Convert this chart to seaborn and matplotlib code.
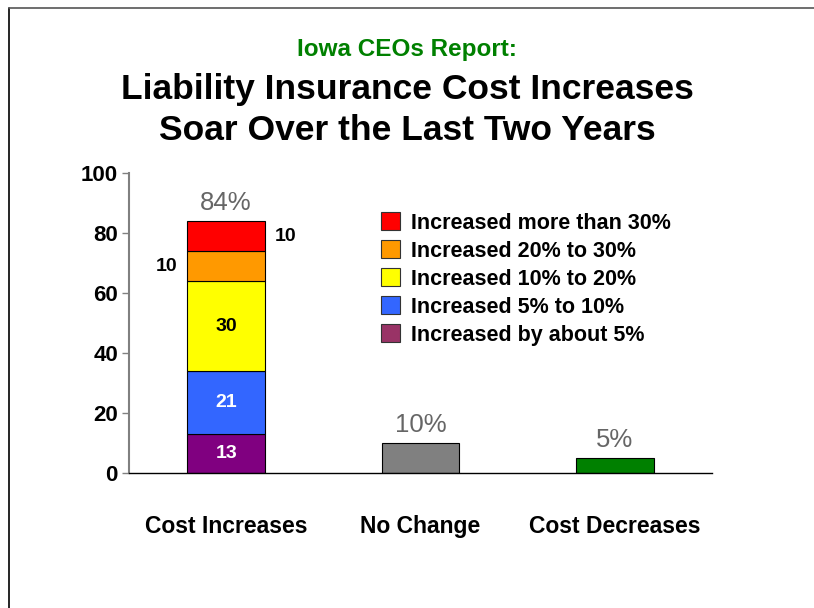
import matplotlib
matplotlib.use('Agg')
import matplotlib.pyplot as plt
import seaborn as sns
from matplotlib.lines import Line2D

# Data
categories = ['Cost Increases', 'No Change', 'Cost Decreases']
segment_labels = ['Increased by about 5%', 'Increased 5% to 10%', 'Increased 10% to 20%',
                  'Increased 20% to 30%', 'Increased more than 30%']
segment_values = [13, 21, 30, 10, 10]
segment_colors = ['#800080', '#3366FF', '#FFFF00', '#FF9900', '#FF0000']
legend_colors = ['#993366', '#3366FF', '#FFFF00', '#FF9900', '#FF0000']
other_categories = ['No Change', 'Cost Decreases']
other_values = [10, 5]
other_colors = ['#808080', '#008000']
total_labels = ['84%', '10%', '5%']
y_ticks = [0, 20, 40, 60, 80, 100]

sns.set_style('white')
plt.rcParams['font.family'] = ['Liberation Sans', 'DejaVu Sans']
plt.rcParams['text.color'] = 'black'
plt.rcParams['xtick.color'] = 'black'
plt.rcParams['ytick.color'] = 'black'
plt.rcParams['xtick.labelcolor'] = 'black'
plt.rcParams['ytick.labelcolor'] = 'black'

fig = plt.figure(figsize=(8.14, 6.08), dpi=100)
ax = fig.add_axes([0.1585, 0.222, 0.7162, 0.4934])

# Stacked bar for Cost Increases
bottom = 0
for val, col in zip(segment_values, segment_colors):
    sns.barplot(x=['Cost Increases'], y=[val], order=categories, bottom=bottom,
                color=col, saturation=1, width=0.4, edgecolor='black', linewidth=0.8, ax=ax)
    bottom += val

# Remaining bars
sns.barplot(x=other_categories, y=other_values, order=categories, hue=other_categories,
            palette=other_colors, saturation=1, legend=False, width=0.4, edgecolor='black',
            linewidth=0.8, ax=ax)

# Segment value labels
mids = []
cum = 0
for val in segment_values:
    mids.append(cum + val / 2)
    cum += val
ax.text(0, mids[0], str(segment_values[0]), ha='center', va='center', color='white',
        fontsize=14, fontweight='bold')
ax.text(0, mids[1], str(segment_values[1]), ha='center', va='center', color='white',
        fontsize=14, fontweight='bold')
ax.text(0, mids[2], str(segment_values[2]), ha='center', va='center', color='black',
        fontsize=14, fontweight='bold')
ax.text(-0.25, mids[3], str(segment_values[3]), ha='right', va='center', color='black',
        fontsize=14, fontweight='bold')
ax.text(0.25, mids[4], str(segment_values[4]), ha='left', va='center', color='black',
        fontsize=14, fontweight='bold')

# Total labels above bars
totals = [sum(segment_values)] + other_values
for i, (t, lab) in enumerate(zip(totals, total_labels)):
    ax.text(i, t + 2, lab, ha='center', va='bottom', color='#666666', fontsize=18.5)

ax.set_xlim(-0.5, 2.5)
ax.set_ylim(0, 100)
ax.set_yticks(y_ticks)
ax.set_yticklabels([str(v) for v in y_ticks], fontsize=16, fontweight='bold')
ax.set_xticks(range(len(categories)))
ax.set_xticklabels(categories, fontsize=16.5, fontweight='bold')
ax.set_xticks([-0.5, 0.5, 1.5, 2.5], minor=True)
ax.tick_params(axis='x', which='major', length=0, pad=30)
ax.tick_params(axis='x', which='minor', length=10, width=1, color='#404040', direction='out')
ax.tick_params(axis='y', length=5, width=1, color='#808080', direction='out', pad=3,
               left=True)
ax.set_xlabel('')
ax.set_ylabel('')
for s in ['top', 'right']:
    ax.spines[s].set_visible(False)
ax.spines['left'].set_color('#808080')
ax.spines['left'].set_linewidth(1.5)
ax.spines['bottom'].set_color('black')
ax.spines['bottom'].set_linewidth(1)

# Legend (top to bottom: highest increase first)
handles = [plt.Rectangle((0, 0), 1, 1, facecolor=c, edgecolor='#333333', linewidth=0.8)
           for c in legend_colors[::-1]]
fig.legend(handles, segment_labels[::-1], loc='upper left', bbox_to_anchor=(0.457, 0.665),
           frameon=False, prop={'weight': 'bold', 'size': 15.5},
           handlelength=0.9, handleheight=0.9, handletextpad=0.5, labelspacing=0.31,
           borderaxespad=0)

# Titles
fig.text(0.5, 0.918, 'Iowa CEOs Report:', ha='center', va='center', color='#008000',
         fontsize=17.5, fontweight='bold')
fig.text(0.5, 0.853, 'Liability Insurance Cost Increases', ha='center', va='center',
         fontsize=25.5, fontweight='bold')
fig.text(0.5, 0.785, 'Soar Over the Last Two Years', ha='center', va='center',
         fontsize=25.5, fontweight='bold')

# Slide frame
fig.add_artist(Line2D([0.0105, 0.0105], [0, 0.987], color='black', linewidth=1.2,
                      transform=fig.transFigure))
fig.add_artist(Line2D([0.0105, 1.0], [0.987, 0.987], color='#555555', linewidth=1.2,
                      transform=fig.transFigure))

fig.savefig('out.png', dpi=100)
